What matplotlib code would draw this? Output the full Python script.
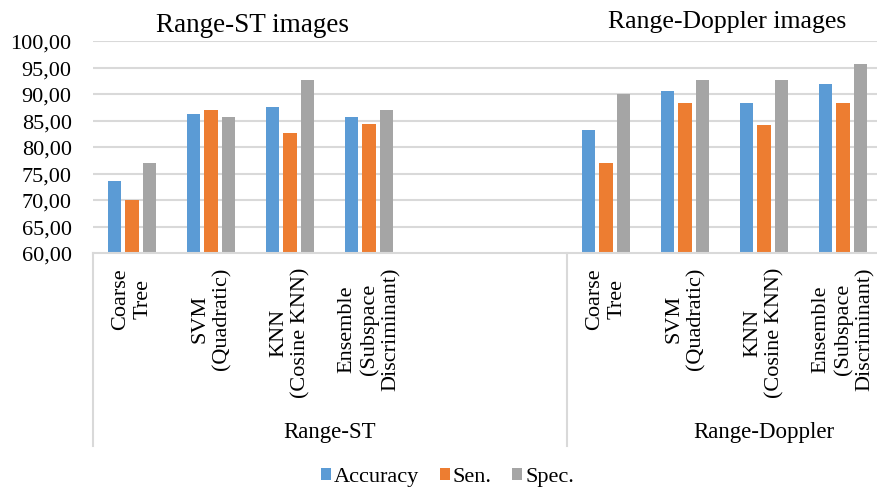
import numpy as np
import matplotlib.pyplot as plt

plt.rcParams['font.family'] = ['Liberation Serif', 'DejaVu Serif']

# classifier results, two empty slots pad the Range-ST block
classifiers = ['Coarse\nTree', 'SVM\n(Quadratic)', 'KNN\n(Cosine KNN)',
               'Ensemble\n(Subspace\nDiscriminant)']
groups = ['Range-ST', 'Range-Doppler']

st_accuracy = [73.5, 86.3, 87.6, 85.6]
st_sen = [70.0, 87.0, 82.7, 84.3]
st_spec = [77.0, 85.6, 92.7, 87.0]

rd_accuracy = [83.3, 90.6, 88.3, 91.9]
rd_sen = [77.0, 88.3, 84.2, 88.3]
rd_spec = [90.0, 92.7, 92.7, 95.6]

series_names = ['Accuracy', 'Sen.', 'Spec.']
colors = ['#5B9BD5', '#ED7D31', '#A5A5A5']

# slot layout: 0-3 Range-ST, 4-5 blank, 6-9 Range-Doppler
st_pos = np.arange(4)
rd_pos = np.arange(6, 10)
tick_labels = classifiers + ['', ''] + classifiers

fig = plt.figure(figsize=(8.78, 4.89), dpi=100)
ax = fig.add_axes([92.5 / 878, 235 / 489, 790 / 878, 212 / 489])

grid_color = '#D9D9D9'
for yv in np.arange(65, 101, 5):
    ax.axhline(yv, color=grid_color, lw=1.5, zorder=0)

bar_width = 0.17
offset = 0.222
st_series = [st_accuracy, st_sen, st_spec]
rd_series = [rd_accuracy, rd_sen, rd_spec]
for i in range(3):
    ax.bar(st_pos + (i - 1) * offset, np.array(st_series[i]) - 60, bar_width,
           bottom=60, color=colors[i], label=series_names[i], zorder=2)
    ax.bar(rd_pos + (i - 1) * offset, np.array(rd_series[i]) - 60, bar_width,
           bottom=60, color=colors[i], zorder=2)

ax.set_xlim(-0.5, 9.5)
ax.set_ylim(60, 100)
ax.set_yticks(np.arange(60, 101, 5))
ax.set_yticklabels(['%d,00' % v for v in np.arange(60, 101, 5)], fontsize=16)
ax.tick_params(axis='y', length=0, pad=15)

ax.set_xticks(np.arange(10))
ax.set_xticklabels(tick_labels, rotation=90, fontsize=16, linespacing=1.2)
for lbl in ax.get_xticklabels():
    lbl.set_multialignment('center')
ax.tick_params(axis='x', length=0, pad=10)

for side in ['left', 'right', 'top']:
    ax.spines[side].set_visible(False)
ax.spines['bottom'].set_color(grid_color)
ax.spines['bottom'].set_linewidth(1.5)

# multi-level category axis: separators and group names
trans = ax.get_xaxis_transform()
for xv in [-0.5, 5.5, 9.5]:
    ax.plot([xv, xv], [0, -0.91], color=grid_color, lw=1.5,
            transform=trans, clip_on=False)
ax.text(2.5, -0.84, groups[0], transform=trans, ha='center', va='center',
        fontsize=16.5)
ax.text(8.0, -0.84, groups[1], transform=trans, ha='center', va='center',
        fontsize=16.5)

fig.text(253 / 878, 1 - 25 / 489, 'Range-ST images', ha='center',
         va='center', fontsize=19.5)
fig.text(727 / 878, 1 - 22 / 489, 'Range-Doppler images', ha='center',
         va='center', fontsize=18.5)

fig.legend(loc='center', bbox_to_anchor=(447.5 / 878, 1 - 478 / 489),
           ncol=3, frameon=False, fontsize=16, handlelength=0.45,
           handleheight=0.45, handletextpad=0.15, columnspacing=0.9,
           borderaxespad=0)

fig.savefig('out.png', dpi=100)
